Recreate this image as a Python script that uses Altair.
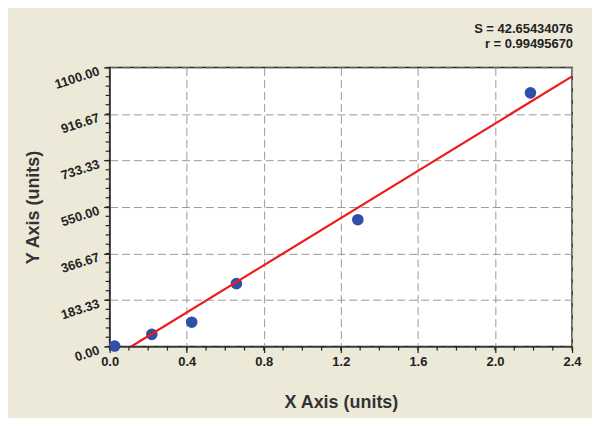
import altair as alt
import pandas as pd

# ---- data ----
x_obs = [0.026, 0.219, 0.426, 0.658, 1.288, 2.184]
y_obs = [2, 48, 96, 248, 500, 1000]

line_x = [0.112, 2.4]
line_y = [0, 1065]

fit_S = "S = 42.65434076"
fit_r = "r = 0.99495670"

x_title = "X Axis (units)"
y_title = "Y Axis (units)"

x_major = [0.0, 0.4, 0.8, 1.2, 1.6, 2.0, 2.4]
y_major = [0.0, 1100 / 6, 2200 / 6, 550.0, 4400 / 6, 5500 / 6, 1100.0]

# minor tick positions (axis decoration)
x_minor = [round(i * 0.1, 2) for i in range(25)]
y_minor = [i * 1100 / 30 for i in range(31)]

pts = pd.DataFrame({"x": x_obs, "y": y_obs})
fit = pd.DataFrame({"x": line_x, "y": line_y})

FONT = "Liberation Sans"
TICK = "#222"

xscale = alt.Scale(domain=[0, 2.4], nice=False, zero=False)
yscale = alt.Scale(domain=[0, 1100], nice=False, zero=False)

xaxis = alt.Axis(
    values=x_major, format=".1f", tickSize=6,
    grid=True, gridDash=[8, 4], gridColor="#9a9a9a", gridWidth=1,
    labelFont=FONT, labelFontSize=13, labelFontWeight="bold", labelColor="#222",
    labelPadding=3, labelOverlap=False, labelFlush=False,
    domainColor=TICK, tickColor=TICK, tickWidth=1.2,
    title=x_title, titleFont=FONT, titleFontSize=18, titleFontWeight="bold",
    titleColor="#333", titleY=61, titleBaseline="alphabetic",
)

yaxis = alt.Axis(
    values=y_major, format=".2f", tickSize=6,
    grid=True, gridDash=[8, 4], gridColor="#9a9a9a", gridWidth=1,
    labelFont=FONT, labelFontSize=13, labelFontWeight="bold", labelColor="#222",
    labelAngle=342, labelAlign="right", labelBaseline="middle",
    labelPadding=5, labelOffset=3, labelOverlap=False, labelFlush=False,
    domainColor=TICK, tickColor=TICK, tickWidth=1.2,
    title=y_title, titleFont=FONT, titleFontSize=18, titleFontWeight="bold",
    titleColor="#333", titleX=-76, titleY=140, titleBaseline="middle",
    titleAlign="center", titleAngle=270,
)

points = alt.Chart(pts).mark_point(
    filled=True, size=135, color="#2F4FA8", opacity=1
).encode(
    x=alt.X("x:Q", scale=xscale, axis=xaxis),
    y=alt.Y("y:Q", scale=yscale, axis=yaxis),
)

line = alt.Chart(fit).mark_line(color="#F01A1A", strokeWidth=2.2, clip=True).encode(
    x=alt.X("x:Q", scale=xscale),
    y=alt.Y("y:Q", scale=yscale),
)

xminor = alt.Chart(pd.DataFrame({"v": x_minor})).mark_rule(
    color=TICK, strokeWidth=1.2, clip=False
).encode(x=alt.X("v:Q", scale=xscale), y=alt.value(280), y2=alt.value(284))

yminor = alt.Chart(pd.DataFrame({"v": y_minor})).mark_rule(
    color=TICK, strokeWidth=1.2, clip=False
).encode(y=alt.Y("v:Q", scale=yscale), x=alt.value(-4), x2=alt.value(0))


def label(text, ypix):
    return alt.Chart(pd.DataFrame({"t": [text]})).mark_text(
        font=FONT, fontSize=13, fontWeight="bold", color="#222",
        align="right", baseline="alphabetic", clip=False,
    ).encode(text="t:N", x=alt.value(465), y=alt.value(ypix))


chart = alt.layer(
    points, line, xminor, yminor, label(fit_S, -35), label(fit_r, -20)
).properties(
    width=464,
    height=280,
    padding={"left": 102, "top": 59, "right": 20, "bottom": 71},
    autosize=alt.AutoSizeParams(type="none"),
).configure(background="#ECE9D8").configure_view(
    fill="white", stroke="#222", strokeWidth=1.5
)

chart.save("out.html", embed_options={"renderer": "svg", "actions": False})
